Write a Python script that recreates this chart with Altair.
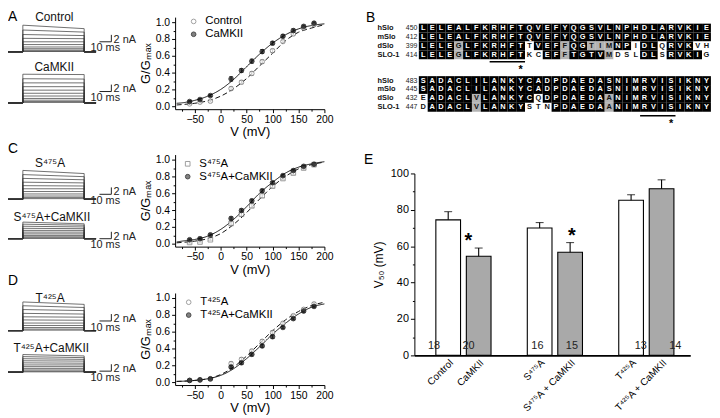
import altair as alt
import pandas as pd

FONT = "Liberation Sans"
W, H = 712, 410

# ======================= DATA =======================
# ---- current-trace families (A, C, D left columns) ----
fam_names = ["Control", "CaMKII", "S⁴⁷⁵A", "S⁴⁷⁵A+CaMKII", "T⁴²⁵A", "T⁴²⁵A+CaMKII"]
amp_on = [  # nA at step onset, one value per trace
    [7.7, 6.3, 5.0, 3.9, 2.9, 2.1, 1.4, 0.9, 0.5, 0.25, 0.1],
    [8.3, 7.0, 5.8, 4.7, 3.7, 2.8, 2.0, 1.3, 0.8, 0.4, 0.15],
    [8.3, 7.1, 6.0, 4.9, 3.9, 3.0, 2.2, 1.5, 0.9, 0.45, 0.15],
    [4.8, 4.2, 3.6, 3.0, 2.4, 1.9, 1.4, 0.95, 0.55, 0.25, 0.1],
    [8.3, 7.2, 6.1, 5.0, 4.0, 3.1, 2.2, 1.5, 0.9, 0.45, 0.15],
    [5.1, 4.5, 3.9, 3.3, 2.7, 2.1, 1.6, 1.1, 0.65, 0.3, 0.1],
]
amp_off = [  # nA at end of step
    [6.7, 5.7, 4.7, 3.8, 2.9, 2.1, 1.4, 0.9, 0.5, 0.25, 0.1],
    [8.2, 6.9, 5.8, 4.7, 3.7, 2.8, 2.0, 1.3, 0.8, 0.4, 0.15],
    [7.4, 6.5, 5.6, 4.7, 3.8, 3.0, 2.2, 1.5, 0.9, 0.45, 0.15],
    [4.3, 3.9, 3.4, 2.9, 2.4, 1.9, 1.4, 0.95, 0.55, 0.25, 0.1],
    [7.6, 6.7, 5.8, 4.8, 3.9, 3.0, 2.2, 1.5, 0.9, 0.45, 0.15],
    [4.7, 4.2, 3.7, 3.2, 2.6, 2.1, 1.6, 1.1, 0.65, 0.3, 0.1],
]
t_begin, t_on, t_off, t_end = 5.0, 17.5, 69.2, 79.2       # ms
title_lvl = [10.0, 10.5, 10.3, 6.4, 9.4, 7.1]             # nA
title_t = [44, 44, 40.5, 42, 40.5, 41.5]                  # ms
bar_lvl = [2.9, 3.3, 1.4, 0.0, 2.8, 0.3]                  # nA, scale bar level
# layout: baseline pixel of each family, pixels per nA
fam_base_px = [42, 93.7, 191, 231, 324, 366]
PX_NA = 3.5

# ---- G/Gmax vs V ----
V_pts = [-60, -40, -20, 20, 40, 60, 80, 100, 120, 140, 160, 180]
A_ctl = [0.028, 0.048, 0.06, 0.21, 0.286, 0.39, 0.53, 0.66, 0.77, 0.86, 0.93, 0.97]
A_cam = [0.056, 0.08, 0.127, 0.325, 0.425, 0.536, 0.65, 0.75, 0.833, 0.90, 0.95, 0.988]
C_s = [0.015, 0.02, 0.047, 0.24, 0.35, 0.45, 0.57, 0.685, 0.775, 0.84, 0.90, 0.94]
C_sc = [0.047, 0.06, 0.105, 0.30, 0.395, 0.51, 0.63, 0.725, 0.81, 0.87, 0.92, 0.945]
D_t = [0.02, 0.025, 0.035, 0.22, 0.27, 0.37, 0.485, 0.59, 0.70, 0.79, 0.865, 0.93]
D_tc = [0.02, 0.027, 0.04, 0.18, 0.23, 0.33, 0.43, 0.54, 0.65, 0.755, 0.845, 0.90]
err_small = [0.01, 0.01, 0.01, 0.02, 0.02, 0.02, 0.02, 0.02, 0.015, 0.015, 0.015, 0.015]
err_big = [0.012, 0.012, 0.012, 0.03, 0.025, 0.025, 0.025, 0.02, 0.02, 0.02, 0.015, 0.015]

V_fit = [-85, -75, -50, -25, 0, 25, 50, 75, 100, 125, 150, 175, 200]
A_ctl_fit = [0.015, 0.02, 0.035, 0.065, 0.12, 0.21, 0.33, 0.48, 0.63, 0.78, 0.88, 0.93, 0.97]
A_cam_fit = [0.035, 0.04, 0.07, 0.12, 0.2, 0.32, 0.47, 0.62, 0.75, 0.85, 0.92, 0.96, 0.98]
C_s_fit = [0.01, 0.015, 0.03, 0.06, 0.12, 0.23, 0.37, 0.53, 0.68, 0.80, 0.89, 0.94, 0.97]
C_sc_fit = [0.02, 0.03, 0.05, 0.09, 0.17, 0.29, 0.44, 0.60, 0.73, 0.84, 0.91, 0.95, 0.975]
D_t_fit = [0.008, 0.01, 0.02, 0.04, 0.09, 0.18, 0.31, 0.46, 0.61, 0.74, 0.84, 0.91, 0.95]
D_tc_fit = [0.008, 0.01, 0.02, 0.04, 0.08, 0.16, 0.28, 0.42, 0.57, 0.70, 0.81, 0.89, 0.93]

# ---- E: V50 bars ----
E_cats = ["Control", "CaMKII", " ", "S⁴⁷⁵A", "S⁴⁷⁵A + CaMKII", "  ", "T⁴²⁵A", "T⁴²⁵A + CaMKII"]
E_bars = ["Control", "CaMKII", "S⁴⁷⁵A", "S⁴⁷⁵A + CaMKII", "T⁴²⁵A", "T⁴²⁵A + CaMKII"]
E_v50 = [74.5, 54.5, 70.0, 56.7, 85.3, 91.6]
E_err = [4.5, 4.5, 3.0, 5.3, 3.0, 4.9]
E_n = [18, 20, 16, 15, 13, 14]
E_kind = ["open", "camkii", "open", "camkii", "open", "camkii"]
E_sig = [0, 1, 0, 1, 0, 0]

# ---- B: alignment ----
species = ["hSlo", "mSlo", "dSlo", "SLO-1"]
start_top = [450, 412, 399, 414]
start_bot = [483, 445, 432, 447]
seq_top = ["LELEALFKRHFTQVEFYQGSVLNPHDLARVKIE",
           "LELEALFKRHFTQVEFYQGSVLNPHDLARVKIE",
           "LELEGLFKRHFTTVEFFQGTIMNPIDLQRVKVH",
           "LELEGLFKRHFTKCEFFTGTVMDSLDLSRVKIG"]
seq_bot = ["SADACLILANKYCADPDAEDASNIMRVISIKNY",
           "SADACLILANKYCADPDAEDASNIMRVISIKNY",
           "EADACLVLANKYCQDPDAEDAANIMRVISIKNY",
           "DADACLVLANKYSTNPDAEDAANIMRVISIKNY"]
shade_top = ["k" * 33, "k" * 33,
             "kkkkgkkkkkkkwkkkgkkgggkkwkkwkkkww",
             "kkkkgkkkkkkkwwkkgkkkkgwwwkkwkkkkw"]
shade_bot = ["k" * 33, "k" * 33,
             "wkkkkkgkkkkkkwkkkkkkkgkkkkkkkkkkk",
             "wkkkkkgkkkkkwwwkkkkkkgkkkkkkkkkkk"]
motif_top = (7.5, 11.5, 11)   # underline from/to column, starred column
motif_bot = (24.5, 28.5, 28)
BLOCK2_ROW = 5.9               # layout: row offset of second block

# ---- panel letters (layout) ----
letters = ["A", "B", "C", "D", "E"]
letter_px = [0, 362, 0, 0, 360]
letter_py = [0, 1, 133, 267, 144]

# ======================= CHART =======================
def qs(dom, rng):
    return alt.Scale(domain=dom, range=rng, nice=False, zero=False)

layers = []

# ---------- traces ----------
rows, bars, texts = [], [], []
for f, name in enumerate(fam_names):
    off = (H - fam_base_px[f]) / PX_NA
    for i, (a0, a1) in enumerate(zip(amp_on[f], amp_off[f])):
        pts = [(t_begin, 0), (t_on, 0), (t_on, a0), (t_off, a1), (t_off, 0), (t_end, 0)]
        for s, (t, v) in enumerate(pts):
            rows.append(dict(key=f"{f}-{i}", s=s, t=t, y=v + off))
    lv = bar_lvl[f] + off
    bars.append(dict(t1=82.1, t2=92.1, y1=lv, y2=lv))
    bars.append(dict(t1=92.1, t2=92.1, y1=lv, y2=lv + 2))
    texts.append(dict(t=94, y=lv + 0.6, label="2 nA", kind="nA"))
    texts.append(dict(t=87, y=lv - 1.9, label="10 ms", kind="ms"))
    texts.append(dict(t=title_t[f], y=title_lvl[f] + off, label=name, kind="title"))
trace_df, bar_df, ttext_df = pd.DataFrame(rows), pd.DataFrame(bars), pd.DataFrame(texts)
tx = qs([0, 100], [-6, 114])
ty = qs([0, H / PX_NA], [H, 0])

layers.append(alt.Chart(trace_df).mark_line(color="#333", strokeWidth=0.7).encode(
    x=alt.X("t:Q", scale=tx, axis=None), y=alt.Y("y:Q", scale=ty, axis=None),
    detail="key:N", order="s:Q"))
layers.append(alt.Chart(bar_df).mark_rule(color="#222", strokeWidth=1).encode(
    x=alt.X("t1:Q", scale=tx, axis=None), x2="t2:Q",
    y=alt.Y("y1:Q", scale=ty, axis=None), y2="y2:Q"))
layers.append(alt.Chart(ttext_df).transform_filter("datum.kind == 'nA'").mark_text(
    align="left", baseline="middle", fontSize=11, color="#222").encode(
    x=alt.X("t:Q", scale=tx, axis=None), y=alt.Y("y:Q", scale=ty, axis=None), text="label:N"))
layers.append(alt.Chart(ttext_df).transform_filter("datum.kind == 'ms'").mark_text(
    align="center", baseline="middle", fontSize=11, color="#222").encode(
    x=alt.X("t:Q", scale=tx, axis=None), y=alt.Y("y:Q", scale=ty, axis=None), text="label:N"))
layers.append(alt.Chart(ttext_df).transform_filter("datum.kind == 'title'").mark_text(
    align="center", baseline="middle", fontSize=12, color="#111").encode(
    x=alt.X("t:Q", scale=tx, axis=None), y=alt.Y("y:Q", scale=ty, axis=None), text="label:N"))

# ---------- G/Gmax panels ----------
GX_DOM, GX_RNG = [-88, 200], [169, 320]
GY_DOM = [-0.035, 1.06]


def gv_panel(open_vals, fill_vals, open_err, fill_err, open_fit, fill_fit, names,
             open_shape, yrng, leg_xy):
    sx, sy = qs(GX_DOM, GX_RNG), qs(GY_DOM, yrng)
    pts = pd.DataFrame({
        "V": V_pts + V_pts, "G": open_vals + fill_vals, "err": open_err + fill_err,
        "cond": [names[0]] * len(V_pts) + [names[1]] * len(V_pts)})
    fit = pd.DataFrame({"V": V_fit + V_fit, "G": open_fit + fill_fit,
                        "cond": [names[0]] * len(V_fit) + [names[1]] * len(V_fit)})
    out = []
    # minor ticks
    out.append(alt.Chart(pts).mark_point(opacity=0).encode(
        x=alt.X("V:Q", scale=sx, axis=alt.Axis(orient="bottom", offset=yrng[0] - H,
                values=[-75, -25, 25, 75, 125, 175], labels=False, domain=False,
                tickSize=2, title=None)),
        y=alt.Y("G:Q", scale=sy, axis=alt.Axis(orient="left", offset=-GX_RNG[0],
                values=[0.1, 0.3, 0.5, 0.7, 0.9], labels=False, domain=False,
                tickSize=2, title=None))))
    for cname, dash in [(names[0], [5, 3]), (names[1], [1, 0])]:
        out.append(alt.Chart(fit).transform_filter(alt.datum.cond == cname).mark_line(
            color="#111", strokeWidth=1, strokeDash=dash, interpolate="monotone").encode(
            x=alt.X("V:Q", scale=sx, axis=None), y=alt.Y("G:Q", scale=sy, axis=None)))
    base = alt.Chart(pts).transform_calculate(lo="datum.G - datum.err", hi="datum.G + datum.err")
    out.append(base.mark_rule(color="#333", strokeWidth=0.8).encode(
        x=alt.X("V:Q", scale=sx, axis=None), y=alt.Y("lo:Q", scale=sy, axis=None), y2="hi:Q"))
    for fld in ["lo", "hi"]:
        out.append(base.mark_tick(orient="horizontal", size=4, thickness=0.8, color="#333").encode(
            x=alt.X("V:Q", scale=sx, axis=None), y=alt.Y(f"{fld}:Q", scale=sy, axis=None)))
    leg = alt.Legend(orient="none", legendX=leg_xy[0], legendY=leg_xy[1], title=None,
                     labelFontSize=11.5, symbolSize=22, symbolStrokeWidth=1, rowPadding=0,
                     labelOffset=6, labelFont=FONT)
    out.append(alt.Chart(pts).mark_point(filled=True, size=22, strokeWidth=1).encode(
        x=alt.X("V:Q", scale=sx, axis=alt.Axis(orient="bottom", offset=yrng[0] - H,
                values=[-50, 0, 50, 100, 150, 200], tickSize=3.5, labelFontSize=10.5,
                labelPadding=2, labelFlush=False, labelOverlap=False,
                title="V (mV)", titleFontSize=13, titlePadding=1)),
        y=alt.Y("G:Q", scale=sy, axis=alt.Axis(orient="left", offset=-GX_RNG[0],
                values=[0, 0.2, 0.4, 0.6, 0.8, 1.0], format=".1f", tickSize=3.5,
                labelFontSize=10.5, labelPadding=2, labelFlush=False, labelOverlap=False,
                title="G/Gₘₐₓ", titleFontSize=13, titlePadding=3)),
        fill=alt.Fill("cond:N", scale=alt.Scale(domain=names, range=["white", "black"]), legend=leg),
        shape=alt.Shape("cond:N", scale=alt.Scale(domain=names, range=[open_shape, "circle"]), legend=leg),
        stroke=alt.Stroke("cond:N", scale=alt.Scale(domain=names, range=["#777", "black"]), legend=leg)))
    return out


layers += gv_panel(A_ctl, A_cam, err_small, err_big, A_ctl_fit, A_cam_fit,
                   ["Control", "CaMKII"], "circle", [100, 6.9], [182, 5.5])
layers += gv_panel(C_s, C_sc, err_small, err_small, C_s_fit, C_sc_fit,
                   ["S⁴⁷⁵A", "S⁴⁷⁵A+CaMKII"], "square", [239, 145.9], [176, 149.5])
layers += gv_panel(D_t, D_tc, err_small, err_small, D_t_fit, D_tc_fit,
                   ["T⁴²⁵A", "T⁴²⁵A+CaMKII"], "circle", [379, 285.9], [177, 289.5])

# ---------- E: V50 bar chart ----------
e_df = pd.DataFrame({"cat": E_bars, "v": E_v50, "err": E_err, "n": E_n,
                     "kind": E_kind, "sig": E_sig})
ex = alt.Scale(domain=E_cats, range=[411, 690], paddingInner=0.19, paddingOuter=0.62, align=0.568)
ey = qs([0, 100], [349, 165])
layers.append(alt.Chart(e_df).mark_point(opacity=0).encode(
    x=alt.X("cat:N", scale=ex, sort=E_cats, axis=None),
    y=alt.Y("v:Q", scale=ey, axis=alt.Axis(orient="left", offset=-411,
            values=[10, 30, 50, 70, 90], labels=False, domain=False, tickSize=2, title=None))))
layers.append(alt.Chart(e_df).mark_bar(stroke="black", strokeWidth=1.1).encode(
    x=alt.X("cat:N", scale=ex, sort=E_cats, axis=alt.Axis(orient="bottom", offset=349 - H,
            ticks=False, labelAngle=-45, labelAlign="right", labelBaseline="top",
            labelFontSize=10, labelPadding=2, labelOverlap=False, title=None,
            domainWidth=1.6)),
    y=alt.Y("v:Q", scale=ey, axis=alt.Axis(orient="left", offset=-411,
            values=[0, 20, 40, 60, 80, 100], tickSize=4, labelFontSize=11, labelPadding=2,
            labelOverlap=False, labelFlush=False,
            title="V₅₀ (mV)", titleFontSize=12, titlePadding=5)),
    fill=alt.Fill("kind:N", scale=alt.Scale(domain=["open", "camkii"], range=["white", "#a9a9a9"]),
                  legend=None)))
eb = alt.Chart(e_df).transform_calculate(hi="datum.v + datum.err", ny="5.4")
layers.append(eb.mark_rule(color="black", strokeWidth=1.1).encode(
    x=alt.X("cat:N", scale=ex, sort=E_cats, axis=None),
    y=alt.Y("v:Q", scale=ey, axis=None), y2="hi:Q"))
layers.append(eb.mark_tick(orient="horizontal", size=8, thickness=1.1, color="black").encode(
    x=alt.X("cat:N", scale=ex, sort=E_cats, axis=None), y=alt.Y("hi:Q", scale=ey, axis=None)))
layers.append(eb.mark_text(fontSize=11, baseline="middle", color="#222").encode(
    x=alt.X("cat:N", scale=ex, sort=E_cats, axis=None), y=alt.Y("ny:Q", scale=ey, axis=None),
    text="n:N"))
layers.append(eb.transform_filter("datum.sig == 1").mark_text(
    text="*", fontSize=20, fontWeight="bold", baseline="alphabetic", dy=-1, color="black").encode(
    x=alt.X("cat:N", scale=ex, sort=E_cats, axis=None), y=alt.Y("hi:Q", scale=ey, axis=None)))

# ---------- B: alignment ----------
cells, labs = [], []
for blk, (seqs, shades, starts) in enumerate([(seq_top, shade_top, start_top),
                                               (seq_bot, shade_bot, start_bot)]):
    for r in range(4):
        row = r + (BLOCK2_ROW if blk else 0)
        for c, (aa, sh) in enumerate(zip(seqs[r], shades[r])):
            cells.append(dict(col=c, row=row, aa=aa, shade=sh))
        labs.append(dict(row=row, name=species[r], num=str(starts[r])))
cell_df, lab_df = pd.DataFrame(cells), pd.DataFrame(labs)
motif_df = pd.DataFrame({"c1": [motif_top[0], motif_bot[0]], "c2": [motif_top[1], motif_bot[1]],
                         "star": [motif_top[2], motif_bot[2]],
                         "row": [3.78, BLOCK2_ROW + 3.94]})
bx = qs([-0.5, 32.5], [415.5, 710.9])
by = qs([-0.5, 9.4], [13.5, 102.6])
cb = alt.Chart(cell_df).transform_calculate(
    x1="datum.col - 0.5", x2="datum.col + 0.5", y1="datum.row - 0.5", y2="datum.row + 0.5")
layers.append(cb.mark_rect(strokeWidth=0).encode(
    x=alt.X("x1:Q", scale=bx, axis=None), x2="x2:Q",
    y=alt.Y("y1:Q", scale=by, axis=None), y2="y2:Q",
    fill=alt.Fill("shade:N", scale=alt.Scale(domain=["k", "g", "w"],
                  range=["#000000", "#b3b3b3", "#ffffff"]), legend=None)))
layers.append(alt.Chart(cell_df).mark_text(fontSize=7.5, fontWeight="bold", baseline="middle").encode(
    x=alt.X("col:Q", scale=bx, axis=None), y=alt.Y("row:Q", scale=by, axis=None),
    text="aa:N",
    fill=alt.Fill("shade:N", scale=alt.Scale(domain=["k", "g", "w"],
                  range=["#ffffff", "#111111", "#111111"]), legend=None)))
lb = alt.Chart(lab_df).transform_calculate(nx="-5.17", mx="-0.67")
layers.append(lb.mark_text(fontSize=7.5, fontWeight="bold", align="left", baseline="middle",
                           color="#111").encode(
    x=alt.X("nx:Q", scale=bx, axis=None), y=alt.Y("row:Q", scale=by, axis=None), text="name:N"))
layers.append(lb.mark_text(fontSize=7, align="right", baseline="middle", color="#222").encode(
    x=alt.X("mx:Q", scale=bx, axis=None), y=alt.Y("row:Q", scale=by, axis=None), text="num:N"))
layers.append(alt.Chart(motif_df).mark_rule(color="black", strokeWidth=1.6).encode(
    x=alt.X("c1:Q", scale=bx, axis=None), x2="c2:Q", y=alt.Y("row:Q", scale=by, axis=None)))
layers.append(alt.Chart(motif_df).transform_calculate(sr="datum.row + 0.95").mark_text(
    text="*", fontSize=11, fontWeight="bold", baseline="middle", color="black").encode(
    x=alt.X("star:Q", scale=bx, axis=None), y=alt.Y("sr:Q", scale=by, axis=None)))

# ---------- panel letters ----------
let_df = pd.DataFrame({"L": letters, "px": letter_px, "py": letter_py})
layers.append(alt.Chart(let_df).mark_text(fontSize=14, align="left", baseline="top",
                                          color="black").encode(
    x=alt.X("px:Q", scale=qs([0, W], [0, W]), axis=None),
    y=alt.Y("py:Q", scale=qs([0, H], [0, H]), axis=None), text="L:N"))

chart = alt.layer(*layers).properties(
    width=W, height=H, padding=0, autosize=alt.AutoSizeParams(type="none")
).resolve_scale(
    x="independent", y="independent", fill="independent", shape="independent",
    stroke="independent"
).resolve_axis(x="independent", y="independent").resolve_legend(
    fill="independent", shape="independent", stroke="independent"
).configure_view(stroke=None).configure_axis(
    grid=False, labelFont=FONT, titleFont=FONT, domainColor="black", tickColor="black",
    labelColor="black", titleColor="black", titleFontWeight="normal", domainWidth=1, tickWidth=1
).configure_text(font=FONT).configure_legend(labelFont=FONT, labelColor="black")

chart.save("out.html", embed_options={"renderer": "svg", "actions": False})
